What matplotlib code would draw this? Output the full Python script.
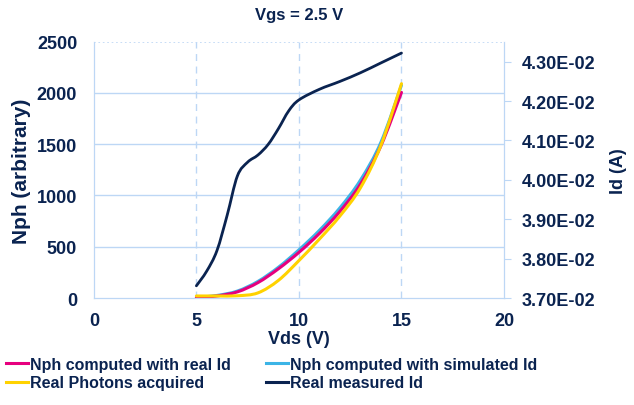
import matplotlib
matplotlib.use("Agg")
import matplotlib.pyplot as plt
from matplotlib.path import Path
from matplotlib.patches import PathPatch
from matplotlib.lines import Line2D
from matplotlib.ticker import FuncFormatter

plt.rcParams['font.family'] = ['Liberation Sans', 'DejaVu Sans']
plt.rcParams['font.weight'] = 'bold'

# Data
vds = [5, 6, 7, 8, 9, 10, 11, 12, 13, 14, 15]
nph_real_id = [0, 20, 60, 150, 285, 445, 630, 845, 1110, 1485, 2005]
nph_sim_id = [5, 25, 68, 162, 300, 470, 660, 880, 1150, 1520, 2075]
photons_acquired = [20, 20, 22, 50, 172, 365, 575, 800, 1075, 1490, 2090]

vds_id = [5, 5.5, 6, 6.5, 7, 7.5, 8, 8.5, 9, 9.5, 10, 11, 12, 13, 14, 15]
id_measured = [0.03731, 0.03768, 0.03820, 0.03910, 0.04010, 0.04045, 0.04063,
               0.04090, 0.04130, 0.04175, 0.04203, 0.04230, 0.04250, 0.04272,
               0.04297, 0.04322]

navy = '#0A2350'
pink = '#E6007E'
cyan = '#3CB4E6'
yellow = '#FFD200'
grid_c = '#BDD7F5'


def smooth_line(a, xs, ys, color, lw, z):
    # Excel-style smoothed line: Catmull-Rom segments as cubic Bezier curves
    verts = [(xs[0], ys[0])]
    codes = [Path.MOVETO]
    n = len(xs)
    for i in range(n - 1):
        x0, y0 = (xs[i - 1], ys[i - 1]) if i > 0 else (xs[i], ys[i])
        x1, y1 = xs[i], ys[i]
        x2, y2 = xs[i + 1], ys[i + 1]
        x3, y3 = (xs[i + 2], ys[i + 2]) if i + 2 < n else (x2, y2)
        c1 = (x1 + (x2 - x0) / 6, y1 + (y2 - y0) / 6)
        c2 = (x2 - (x3 - x1) / 6, y2 - (y3 - y1) / 6)
        verts += [c1, c2, (x2, y2)]
        codes += [Path.CURVE4] * 3
    a.add_patch(PathPatch(Path(verts, codes), fill=False, edgecolor=color,
                          lw=lw, zorder=z, capstyle='round', joinstyle='round'))


fig = plt.figure(figsize=(6.34, 4.06), dpi=100)
ax = fig.add_axes([0.148, 0.2635, 0.647, 0.6315])
ax2 = ax.twinx()

smooth_line(ax, vds, nph_sim_id, cyan, 2.2, 2)
smooth_line(ax, vds, nph_real_id, pink, 2.2, 3)
smooth_line(ax, vds, photons_acquired, yellow, 2.2, 4)
smooth_line(ax2, vds_id, id_measured, navy, 2.0, 3)

ax.set_xlim(0, 20)
ax.set_ylim(0, 2500)
ax.set_xticks([0, 5, 10, 15, 20])
ax.set_yticks([0, 500, 1000, 1500, 2000, 2500])
ax2.set_ylim(0.037, 0.04351)
ax2.set_yticks([0.037, 0.038, 0.039, 0.040, 0.041, 0.042, 0.043])
ax2.yaxis.set_major_formatter(FuncFormatter(lambda v, p: f"{v:.2E}"))

# grid
for y in [500, 1000, 1500, 2000]:
    ax.axhline(y, color=grid_c, lw=1, zorder=0)
ax.axhline(2500, color=grid_c, lw=1.2, ls=':', zorder=0)
for x in [5, 10, 15]:
    ax.axvline(x, color=grid_c, lw=1, ls=(0, (5, 4)), zorder=0)

for a in (ax, ax2):
    for s in a.spines.values():
        s.set_color(grid_c)
    a.spines['top'].set_visible(False)

ax.tick_params(axis='x', length=0, labelsize=13, labelcolor=navy, pad=10)
ax.tick_params(axis='y', length=0, labelsize=13, labelcolor=navy, pad=12)
ax2.tick_params(axis='y', length=5, color=grid_c, labelsize=13, labelcolor=navy, pad=8)

ax.set_xlabel('Vds (V)', fontsize=13, color=navy, fontweight='bold', labelpad=1)
ax.set_ylabel('Nph (arbitrary)', fontsize=15, color=navy, fontweight='bold', labelpad=4)
ax2.set_ylabel('Id (A)', fontsize=13, color=navy, fontweight='bold', labelpad=10)
ax.set_title('Vgs = 2.5 V', fontsize=12, color=navy, fontweight='bold', pad=16)

labels = ['Nph computed with real Id', 'Real Photons acquired',
          'Nph computed with simulated Id', 'Real measured Id']
colors = [pink, yellow, cyan, navy]
handles = [Line2D([], [], color=c, lw=2.2) for c in colors]
leg = fig.legend(handles, labels, ncol=2, loc='lower left', bbox_to_anchor=(0.0, 0.02),
                 frameon=False, fontsize=11.5, handlelength=1.35, handletextpad=0.15,
                 columnspacing=2.2, labelspacing=0.22, borderaxespad=0.1,
                 borderpad=0.3)
for t in leg.get_texts():
    t.set_color(navy)

fig.savefig('out.png', dpi=100)
